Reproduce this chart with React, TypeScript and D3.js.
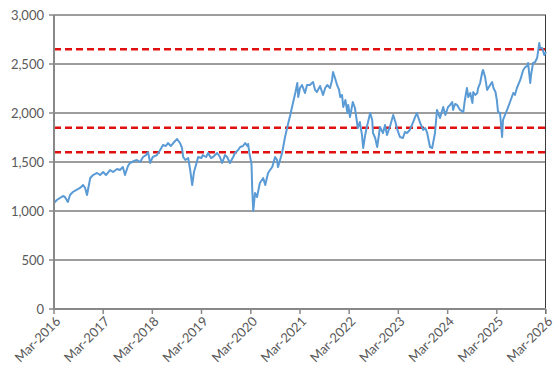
import React from "react";
import * as d3 from "d3";

const dates: string[] = [
  "2016-03-01","2016-03-22","2016-04-15","2016-05-06","2016-05-21","2016-06-12","2016-06-28","2016-07-19","2016-08-12","2016-09-10",
  "2016-10-03","2016-10-18","2016-11-01","2016-11-25","2016-12-16","2017-01-15","2017-02-06","2017-03-01","2017-03-22","2017-04-21",
  "2017-05-13","2017-06-12","2017-07-03","2017-07-25","2017-08-10","2017-09-01","2017-09-16","2017-10-16","2017-11-06","2017-12-01",
  "2017-12-22","2018-01-13","2018-01-28","2018-02-13","2018-03-04","2018-04-04","2018-04-28","2018-05-19","2018-06-10","2018-06-25",
  "2018-07-16","2018-08-10","2018-09-01","2018-09-22","2018-10-07","2018-10-16","2018-11-01","2018-11-22","2018-12-07","2018-12-22",
  "2019-01-04","2019-01-19","2019-02-04","2019-02-28","2019-03-10","2019-04-04","2019-04-19","2019-05-10","2019-05-25","2019-06-25",
  "2019-07-16","2019-08-01","2019-08-22","2019-09-07","2019-09-28","2019-10-22","2019-11-04","2019-11-28","2019-12-13","2020-01-03",
  "2020-01-19","2020-02-04","2020-02-10","2020-02-19","2020-03-06","2020-03-12","2020-03-19","2020-04-01","2020-04-16","2020-05-07",
  "2020-06-01","2020-06-16","2020-07-07","2020-07-22","2020-08-07","2020-08-28","2020-09-12","2020-09-19","2020-10-04","2020-10-19",
  "2020-11-10","2020-12-04","2020-12-19","2021-01-01","2021-01-25","2021-02-09","2021-02-16","2021-03-01","2021-03-16","2021-04-07",
  "2021-04-22","2021-05-13","2021-06-06","2021-06-21","2021-07-04","2021-07-28","2021-08-19","2021-09-04","2021-09-19","2021-10-10",
  "2021-10-25","2021-11-01","2021-11-16","2021-12-01","2021-12-16","2021-12-25","2022-01-07","2022-01-16","2022-02-01","2022-02-16",
  "2022-02-22","2022-03-07","2022-03-28","2022-04-13","2022-05-04","2022-05-19","2022-06-04","2022-06-13","2022-06-28","2022-07-10",
  "2022-08-04","2022-08-19","2022-08-25","2022-09-10","2022-09-25","2022-10-16","2022-11-07","2022-11-22","2022-12-07","2023-01-01",
  "2023-01-22","2023-02-07","2023-02-22","2023-03-13","2023-04-04","2023-04-19","2023-05-04","2023-05-25","2023-06-19","2023-07-01",
  "2023-07-16","2023-08-10","2023-09-01","2023-09-16","2023-10-01","2023-10-22","2023-11-07","2023-11-28","2023-12-13","2024-01-04",
  "2024-01-28","2024-02-13","2024-03-04","2024-03-19","2024-04-04","2024-04-10","2024-04-25","2024-05-10","2024-06-01","2024-06-25",
  "2024-07-07","2024-07-22","2024-08-01","2024-08-16","2024-09-01","2024-09-07","2024-09-22","2024-10-07","2024-10-13","2024-10-28",
  "2024-11-13","2024-11-19","2024-12-04","2024-12-19","2025-01-10","2025-01-25","2025-02-04","2025-02-19","2025-03-01","2025-03-10",
  "2025-03-25","2025-04-09","2025-04-16","2025-05-01","2025-05-16","2025-06-07","2025-07-01","2025-07-13","2025-07-28","2025-08-22",
  "2025-09-13","2025-09-28","2025-10-13","2025-10-19","2025-11-04","2025-11-10","2025-11-25","2025-12-10","2025-12-25","2026-01-10",
  "2026-01-16","2026-02-01","2026-02-16","2026-03-01"
];

const values: number[] = [
  1082,1112,1133,1153,1143,1092,1163,1194,1214,1235,
  1265,1235,1163,1337,1367,1388,1367,1398,1367,1418,
  1398,1429,1418,1449,1367,1459,1490,1510,1520,1500,
  1551,1571,1602,1490,1551,1571,1622,1673,1663,1694,
  1663,1704,1735,1694,1643,1551,1520,1541,1418,1265,
  1398,1469,1551,1541,1571,1551,1592,1541,1551,1592,
  1551,1490,1571,1551,1490,1551,1592,1622,1653,1663,
  1694,1663,1684,1592,1480,1200,1000,1184,1143,1286,
  1337,1265,1388,1418,1449,1551,1520,1449,1520,1592,
  1755,1898,1980,2061,2204,2306,2163,2255,2286,2204,
  2286,2286,2316,2235,2214,2276,2184,2255,2286,2255,
  2337,2418,2357,2286,2235,2163,2184,2061,2133,2000,
  2082,1959,2112,2051,1847,1908,1776,1643,1776,1857,
  2000,1929,1796,1745,1653,1857,1796,1878,1776,1878,
  1980,1908,1827,1755,1745,1806,1796,1827,1908,1949,
  2000,1898,1827,1847,1796,1653,1643,1796,2031,1949,
  2061,1980,2061,2082,2112,2031,2092,2082,2031,2010,
  2133,2255,2163,2204,2102,2214,2184,2204,2255,2306,
  2418,2439,2367,2235,2286,2316,2255,2214,2133,2010,
  2000,1755,1929,1980,2031,2112,2204,2184,2255,2337,
  2439,2469,2480,2510,2306,2388,2510,2520,2561,2714,
  2663,2663,2592,2622
];

const refLevels: number[] = [2650, 1850, 1600];
const yTicks: number[] = [0, 500, 1000, 1500, 2000, 2500, 3000];
const xTickYears: number[] = [2016, 2017, 2018, 2019, 2020, 2021, 2022, 2023, 2024, 2025, 2026];

const W = 556;
const H = 373;
const M = { left: 54, right: 10, top: 15, bottom: 64 };

export default function App() {
  const parse = d3.timeParse("%Y-%m-%d");
  const data = dates.map((d, i) => ({ date: parse(d) as Date, value: values[i] }));
  const x = d3
    .scaleTime()
    .domain([new Date(2016, 2, 1), new Date(2026, 2, 1)])
    .range([M.left, W - M.right]);
  const y = d3.scaleLinear().domain([0, 3000]).range([H - M.bottom, M.top]);
  const line = d3
    .line<{ date: Date; value: number }>()
    .x((d) => x(d.date))
    .y((d) => y(d.value));
  const fmtY = d3.format(",");
  const fmtX = d3.timeFormat("%b-%Y");
  const xTicks = xTickYears.map((yr) => new Date(yr, 2, 1));
  const x0 = M.left;
  const x1 = W - M.right;
  const yBottom = y(0);
  const font = "Lato, 'Liberation Sans', sans-serif";

  return (
    <svg
      width={W}
      height={H}
      style={{ position: "absolute", left: 0, top: 0, background: "#fff" }}
    >
      {yTicks.map((t) =>
        t === 0 ? null : (
          <line key={"g" + t} x1={x0} x2={x1} y1={y(t)} y2={y(t)} stroke="#3a3a3a" strokeWidth={1} />
        )
      )}
      <line x1={x1 - 0.5} x2={x1 - 0.5} y1={y(3000)} y2={yBottom + 5} stroke="#3a3a3a" strokeWidth={1} />
      {refLevels.map((v) => (
        <line
          key={"r" + v}
          x1={x0}
          x2={x1}
          y1={y(v)}
          y2={y(v)}
          stroke="#e01010"
          strokeWidth={2.5}
          strokeDasharray="7,4"
        />
      ))}
      <path d={line(data) || ""} fill="none" stroke="#5b9bd5" strokeWidth={2} strokeLinejoin="round" />
      <line x1={x0} x2={x0} y1={y(3000)} y2={yBottom} stroke="#888" strokeWidth={2} />
      <line x1={x0} x2={x1} y1={yBottom} y2={yBottom} stroke="#888" strokeWidth={2} />
      {yTicks.map((t) => (
        <g key={"yt" + t}>
          <line x1={x0 - 5} x2={x0} y1={y(t)} y2={y(t)} stroke="#888" strokeWidth={1.5} />
          <text
            x={x0 - 10}
            y={y(t)}
            dy="0.35em"
            textAnchor="end"
            fontFamily={font}
            fontSize={13}
            fill="#595959"
          >
            {fmtY(t)}
          </text>
        </g>
      ))}
      {xTicks.map((d, i) => (
        <g key={"xt" + i}>
          <line x1={x(d)} x2={x(d)} y1={yBottom} y2={yBottom + 5} stroke="#888" strokeWidth={1.5} />
          <text
            transform={`translate(${x(d) + 4},${yBottom + 10}) rotate(-45)`}
            dy="0.35em"
            textAnchor="end"
            fontFamily={font}
            fontSize={13}
            fill="#595959"
          >
            {fmtX(d)}
          </text>
        </g>
      ))}
    </svg>
  );
}
